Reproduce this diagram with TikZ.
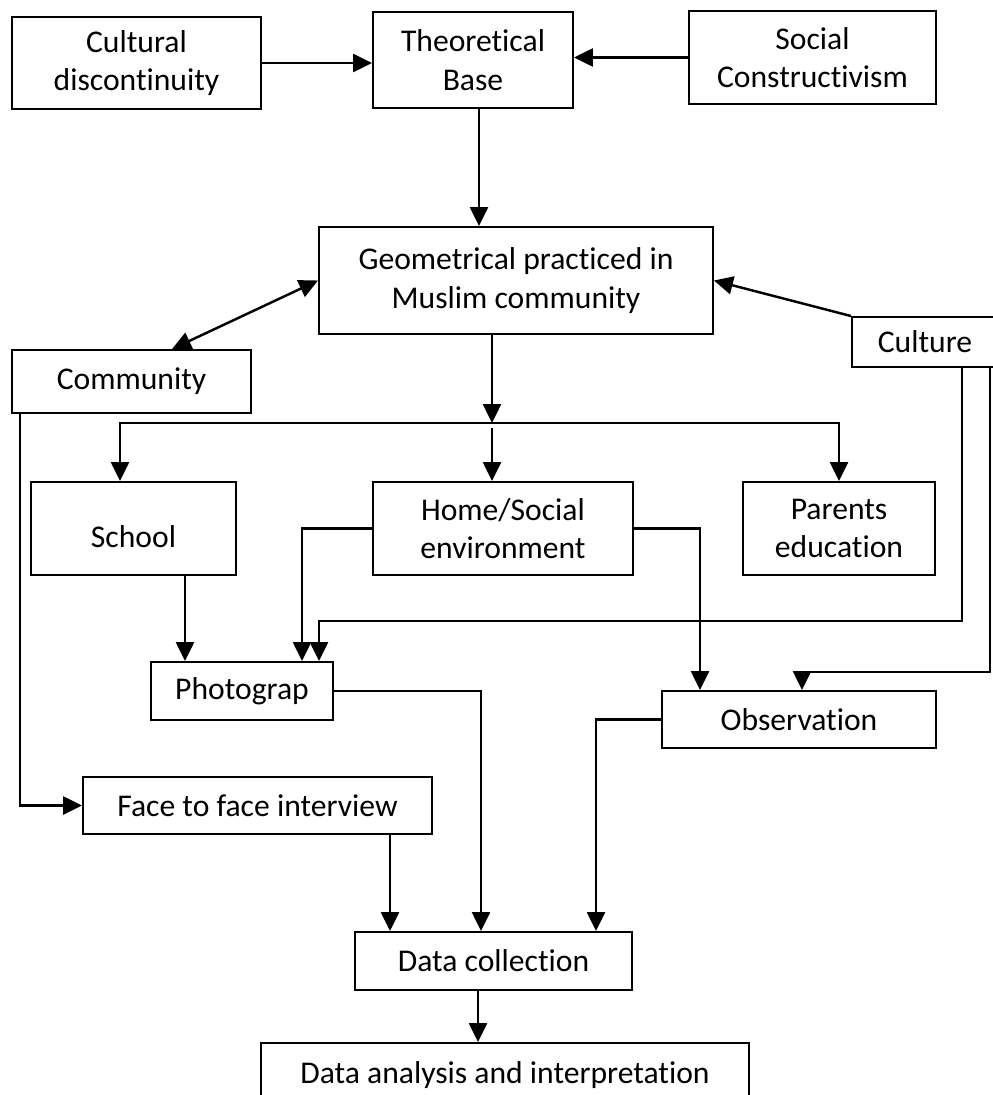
\documentclass[tikz,border=0pt]{standalone}
\usepackage{fontspec}
\setmainfont{Carlito}[Ligatures={NoCommon,NoContextual},RawFeature={-calt;-liga;-clig}]
\usetikzlibrary{arrows.meta,calc}
\begin{document}
\begin{tikzpicture}[x=0.02cm,y=-0.02cm,
  box/.style={draw,line width=1.1pt,align=center,inner sep=0pt,font=\fontsize{18}{22}\selectfont},
  conn/.style={line width=1.4pt},
  arr/.style={conn,-{Triangle[length=0.38cm,width=0.36cm]}},
  arrboth/.style={conn,{Triangle[length=0.38cm,width=0.36cm]}-{Triangle[length=0.38cm,width=0.36cm]}}
]
\useasboundingbox (0,0) rectangle (992,1095);
% boxes
\node[box,minimum width=4.98cm,minimum height=1.84cm] (cult) at (136.5,63) {Cultural\\discontinuity};
\node[box,minimum width=4.0cm,minimum height=1.92cm] (theo) at (473,60) {Theoretical\\Base};
\node[box,minimum width=4.94cm,minimum height=1.86cm] (soc) at (812.5,57.5) {Social\\Constructivism};
\node[box,minimum width=7.88cm,minimum height=2.14cm] (geo) at (516,280.5) {Geometrical practiced in\\Muslim community};
\node[box,minimum width=4.78cm,minimum height=1.26cm] (comm) at (131.5,381.5) {Community};
\node[box,minimum width=2.92cm,minimum height=1.0cm] (cul) at (925,342) {Culture};
\node[box,minimum width=4.1cm,minimum height=1.86cm] (school) at (133.5,528.5) {\mbox{}\\School};
\node[box,minimum width=5.2cm,minimum height=1.86cm] (home) at (503,528.5) {Home/Social\\environment};
\node[box,minimum width=3.84cm,minimum height=1.86cm] (par) at (839,528.5) {Parents\\education};
\node[box,minimum width=3.64cm,minimum height=1.16cm] (photo) at (242,691) {Photograp};
\node[box,minimum width=5.48cm,minimum height=1.14cm] (obs) at (799,719.5) {Observation};
\node[box,minimum width=6.98cm,minimum height=1.14cm] (face) at (257.5,805.5) {Face to face interview};
\node[box,minimum width=5.54cm,minimum height=1.16cm] (dc) at (493.5,961) {Data collection};
\node[box,minimum width=9.76cm,minimum height=1.28cm] (da) at (505,1075) {Data analysis and interpretation};
% helper coordinates
\coordinate (x479) at (479,0);
\coordinate (br) at (492,423);
\coordinate (x120) at (120,0);
\coordinate (x185) at (185,0);
\coordinate (x302) at (302,0);
\coordinate (x319) at (319,0);
\coordinate (t1) at (962,621);
\coordinate (t2) at (990,672);
\coordinate (x802) at (802,0);
\coordinate (x700) at (700,0);
\coordinate (x481) at (481,0);
\coordinate (x20) at (20,0);
\coordinate (x390) at (390,0);
\coordinate (x596) at (596,0);
\coordinate (x478) at (478,0);
% connectors
\draw[arr] (cult.east) -- (cult.east -| theo.west);
\draw[arr] (soc.west) -- (soc.west -| theo.east);
\draw[arr] (theo.south -| x479) -- (geo.north -| x479);
\draw[arrboth] ($(comm.north west)+(161,0)$) -- (geo.west);
\draw[arr] (cul.north west) -- (geo.east);
\draw[arr] (geo.south -| br) -- (br);
\draw[arr] (br) -| (school.north -| x120);
\draw[arr] (br) -| (par.north);
\draw[arr] ($(br)+(0,5)$) -- (home.north -| br);
\draw[arr] (school.south -| x185) -- (photo.north -| x185);
\draw[arr] (home.west) -| (photo.north -| x302);
\draw[arr] (cul.south -| t1) -- (t1) -| (photo.north -| x319);
\draw[arr] (cul.south -| t2) -- (t2) -| (obs.north -| x802);
\draw[arr] (home.east) -| (obs.north -| x700);
\draw[arr] (photo.east) -| (dc.north -| x481);
\draw[arr] (comm.south -| x20) |- (face.west);
\draw[arr] (face.south -| x390) -- (dc.north -| x390);
\draw[arr] (obs.west) -| (dc.north -| x596);
\draw[arr] (dc.south -| x478) -- (da.north -| x478);
\end{tikzpicture}
\end{document}
